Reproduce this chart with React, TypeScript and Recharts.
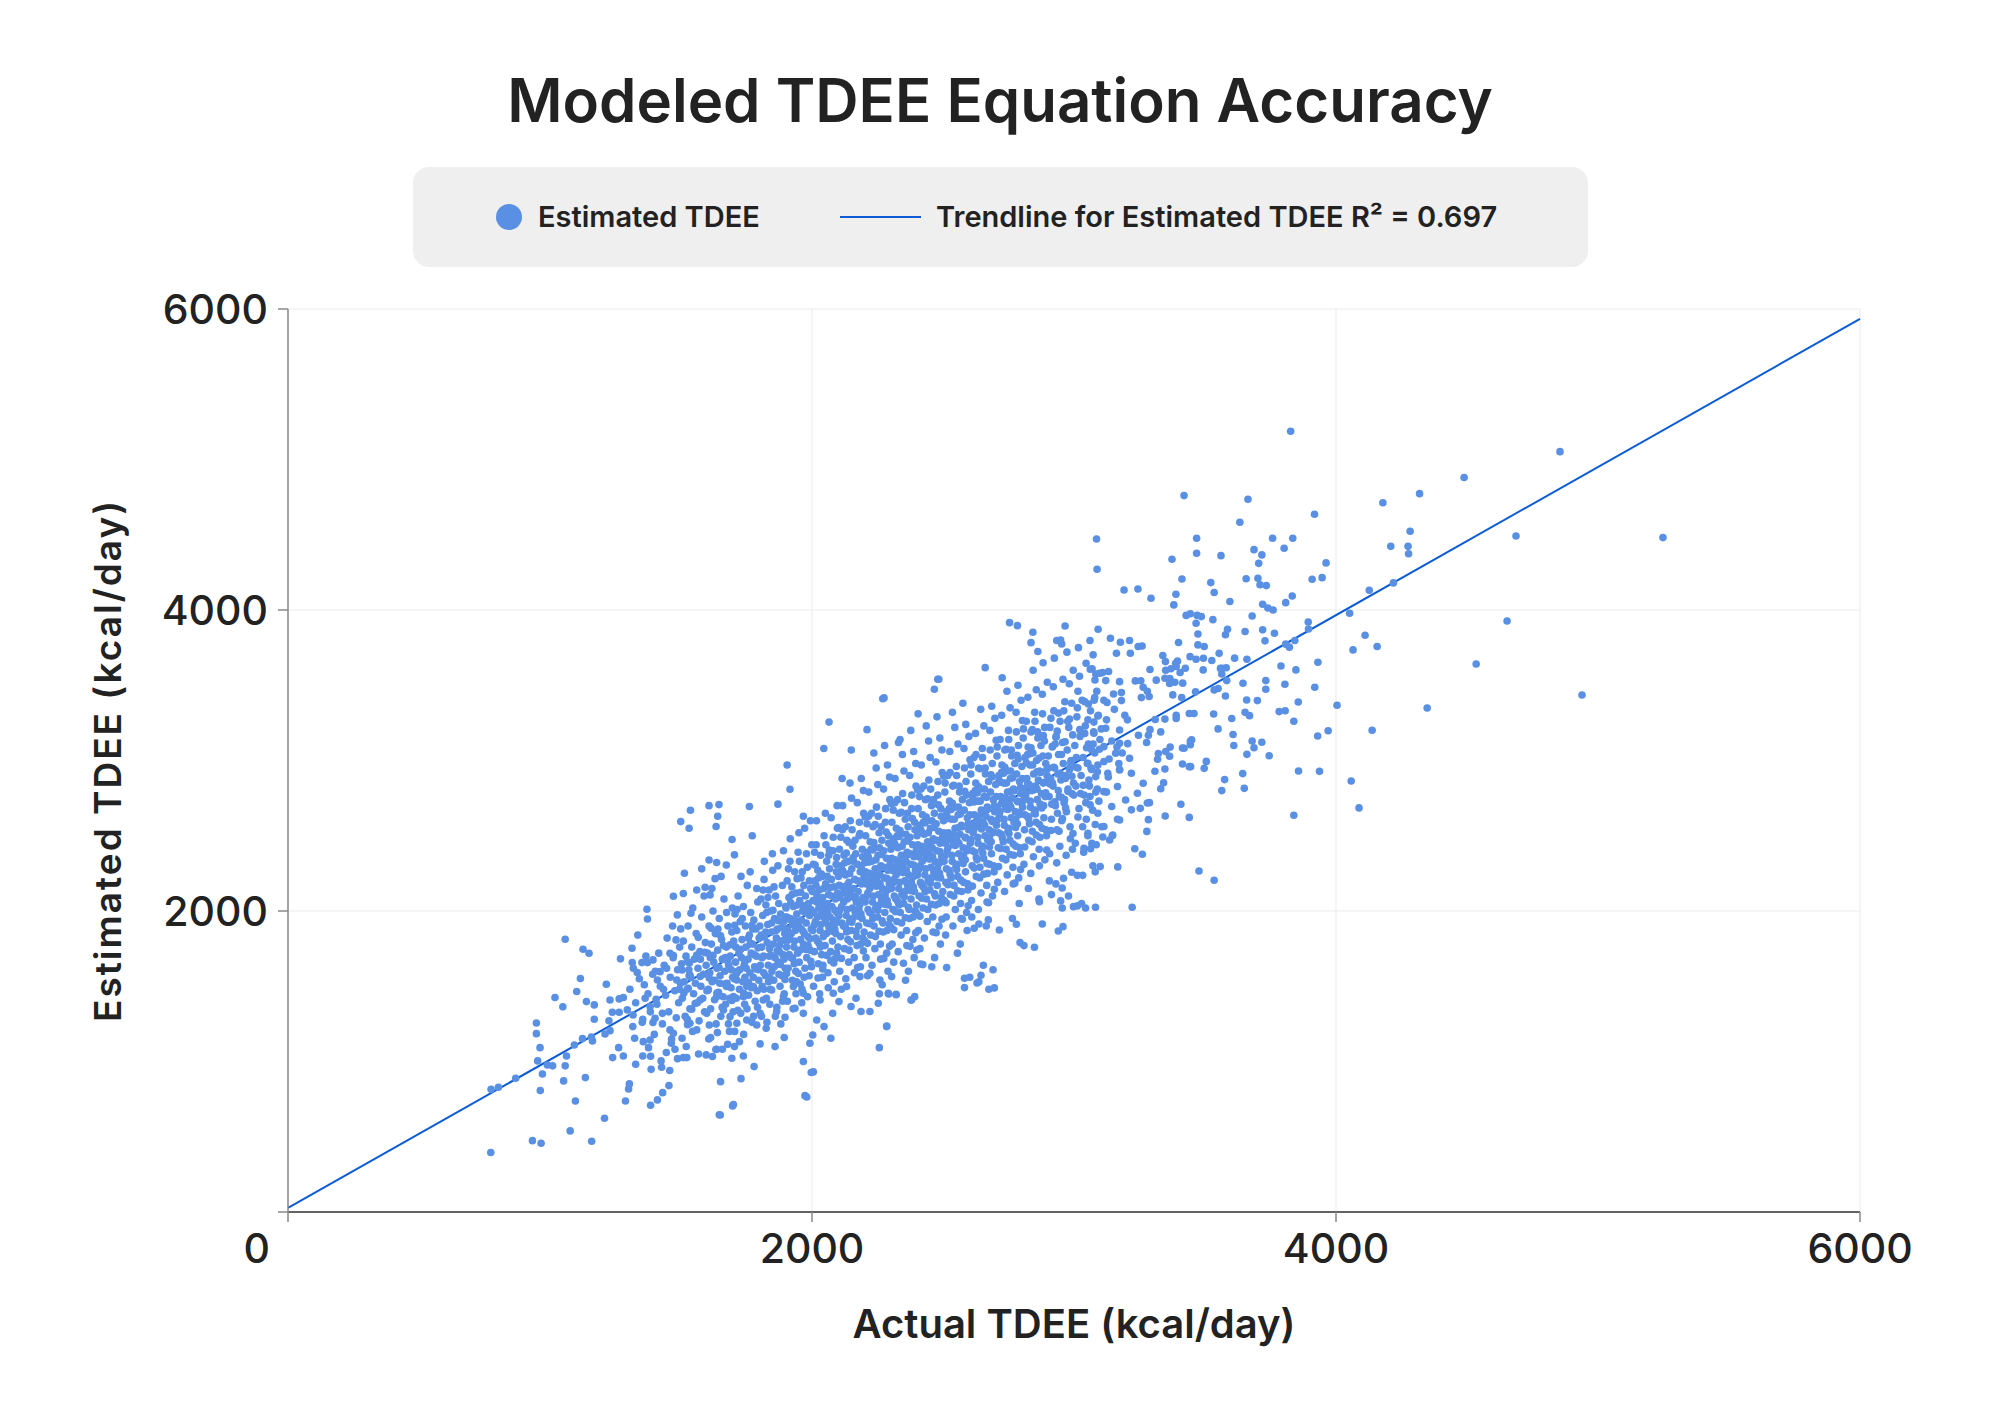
import { CartesianGrid, ReferenceLine, Scatter, ScatterChart, XAxis, YAxis } from "recharts"

// values (x = actual TDEE, y = estimated TDEE, kcal/day)
const lowTail: [number, number][] = [
  [774,395],[933,474],[966,457],[1159,470],[1077,539],[1208,623],[1097,738],[963,807],[775,815],[803,829],
  [869,889],[1052,871],[1135,893],[971,917],[1058,971],[953,1004],[990,977],[1010,971],[1063,1037],[1093,1110],
  [962,1092],[948,1185],[948,1256],[1058,1812],[1049,1363],[1019,1425],[1102,1465],[1116,1551],[1126,1746],[1149,1719],
  [1139,1398],[1169,1376],[1169,1281],[1124,1152],[1158,1163],[1162,1137],[1215,1513],[1229,1409],[1264,1416],[1280,1425],
  [1238,1327],[1264,1327],[1295,1343],[1225,1270],[1210,1183],[1229,1205],[1262,1092],[1239,1026],[1280,1037],[1303,851],
  [1300,818],[1288,738],[1327,982],[1269,1682],[1313,1752],[1314,1657],[1333,1591],[1351,1657],[1372,1657],[1393,1675],
  [1370,2012],[1372,1947],[1317,1309],[1316,1232],[1323,1154],[1356,1132],[1382,1143],[1376,1092],[1354,1037],[1384,1035],
  [1386,948],[1424,1004],[1426,962],[1457,940],[1454,840],[1430,793],[1410,745],[1384,709],[1354,1281],[1363,1420],
  [1382,1365],[1401,1287],[1393,1259],[1429,1320],[1405,1413],[1433,1480],[1410,1542],[1420,1597],[1445,1620],[1458,1719],
  [1471,1704],[1484,1542],[1504,1608],[1494,1480],[1528,1487],[1534,1575],[1524,1664],[1560,1708],[1471,2098],[1509,2116],
  [1486,1974],[1499,1881],[1481,1808],[1513,2251],[1499,2594],[1531,2550],[1536,2669],[1645,2707],[1634,2561],[1761,2694],
  [1916,2809],[1695,2475],[1704,2373],[1607,2339],[1636,2322],[1579,2280],[1673,2306],[1630,2215],[1592,2158],[1560,2140],
  [1611,2107],[1538,1985],[1458,1210],[1471,1188],[1463,1121],[1477,1081],[1487,1019],[1509,1026],[1522,1026],[1504,1154],
  [1534,1254],[1524,1281],[1541,1347],[1560,1210],[1573,1409],[1598,1320],[1608,1243],[1613,1159],[1639,1192],[1636,1081],
  [1658,1081],[1596,1044],[1620,1033],[1651,866],[1650,645],[1697,705],[1678,1114],[1704,1099],[1723,1132],[1694,1022],
  [1729,886],[1738,1037],[1779,966],[1802,1117],[1859,1099],[1894,1159],[1967,1000],[2005,931],[1980,764],[1992,1121],
  [2003,1176],[2072,1154],[2046,1232],[2257,1092],[2285,1232],[2253,1387],[2291,1453],[2321,1447],[2380,1409],[2149,1365],
  [2187,1332],[2221,1332],[2103,1398],[2079,1320],[2018,1276],[1967,1320],[1935,1354],[1897,1294],[1865,1332],[1802,1320],
  [1825,1221],[1789,1243],[1751,1276],[1713,1254],[1687,1298],[1662,1343],[1636,1431],[1604,1475],[1674,1498],[1713,1542],
  [1700,1431],[1738,1431],[1776,1498],[1814,1409],[1846,1475],[1891,1431],[1929,1498],[1967,1453],[2031,1409],[2081,1453],
  [2132,1498],[2183,1564],[2221,1586],[2259,1542],[2304,1564],[2349,1653],[2400,1741],[1973,773],[1646,646],[1700,714],
]

const coreLow: [number, number][] = [
  [1305,1480],[1318,1620],[1327,1390],[1341,1550],[1352,1260],[1366,1700],[1374,1450],[1383,1330],[1392,1580],[1398,1180],[1335,1840],[1360,1510],
  [1402,1600],[1408,1380],[1415,1720],[1421,1500],[1429,1250],[1436,1640],[1441,1440],[1447,1820],[1453,1330],[1459,1560],
  [1464,1150],[1470,1690],[1476,1470],[1482,1290],[1487,1610],[1491,1390],[1495,1760],[1498,1520],[1444,1060],[1468,1900],
  [1502,1650],[1505,1420],[1509,1800],[1512,1530],[1516,1300],[1519,1700],[1523,1480],[1527,1900],[1530,1610],[1534,1350],
  [1537,1560],[1541,1760],[1544,1200],[1548,1450],[1551,1680],[1555,1520],[1558,1850],[1562,1390],[1565,1620],[1569,1270],
  [1572,1730],[1576,1500],[1579,1960],[1583,1420],[1586,1580],[1590,1330],[1593,1790],[1596,1640],[1599,1470],[1520,1100],
  [1545,2020],[1567,1050],[1588,2100],[1531,1570],[1574,1680],
  [1601,1720],[1604,1480],[1607,1900],[1610,1590],[1613,1350],[1616,1780],[1619,1530],[1622,2000],[1625,1660],[1628,1410],
  [1631,1850],[1634,1250],[1637,1620],[1640,1740],[1643,1460],[1646,1950],[1649,1570],[1652,1300],[1655,1810],[1658,1680],
  [1661,1430],[1664,2080],[1667,1600],[1670,1380],[1673,1760],[1676,1520],[1679,1900],[1682,1640],[1685,1200],[1688,1700],
  [1691,1490],[1694,1860],[1697,1560],[1699,1330],[1606,1150],[1618,2150],[1633,1080],[1648,1520],[1662,1770],[1674,1990],
  [1686,1420],[1696,2020],[1612,1690],[1627,1540],[1641,1880],[1657,1360],[1669,1690],[1681,1250],[1692,1610],[1653,2230],
  [1701,1800],[1703,1550],[1706,1980],[1708,1660],[1711,1420],[1713,1870],[1716,1600],[1718,2100],[1721,1720],[1723,1480],
  [1726,1930],[1728,1320],[1731,1690],[1733,1810],[1736,1530],[1738,2030],[1741,1640],[1743,1380],[1746,1900],[1748,1760],
  [1751,1500],[1753,2170],[1756,1680],[1758,1440],[1761,1840],[1763,1590],[1766,1990],[1768,1720],[1771,1260],[1773,1780],
  [1776,1560],[1778,1940],[1781,1630],[1783,1400],[1786,1880],[1788,1700],[1791,1470],[1793,2060],[1796,1610],[1798,1820],
  [1705,1200],[1717,1340],[1729,2230],[1739,1180],[1752,1350],[1764,2260],[1777,1300],[1789,2150],[1709,1760],[1724,1610],
  [1734,1950],[1744,1560],[1757,1820],[1769,1490],[1779,1710],[1792,1360],[1714,2010],[1749,1620],[1774,1880],[1797,1540],
  [1801,1900],[1803,1640],[1805,2080],[1808,1760],[1810,1500],[1812,1970],[1815,1700],[1817,2210],[1819,1830],[1822,1570],
  [1824,2040],[1826,1420],[1829,1790],[1831,1910],[1833,1640],[1836,2140],[1838,1750],[1840,1480],[1843,2000],[1845,1860],
  [1847,1600],[1850,2270],[1852,1780],[1854,1540],[1857,1950],[1859,1690],[1861,2100],[1864,1820],[1866,1360],[1868,1880],
  [1871,1660],[1873,2050],[1875,1730],[1878,1500],[1880,1980],[1882,1800],[1885,1570],[1887,2170],[1889,1710],[1892,1930],
  [1894,1450],[1896,1850],[1898,1620],[1899,2030],[1807,1300],[1818,2330],[1828,1260],[1839,1380],[1849,2380],[1860,1300],
  [1870,2300],[1881,1250],[1891,2400],[1806,1840],[1816,1590],[1827,1990],[1837,1700],[1846,1920],[1856,1630],[1863,1870],
  [1874,1580],[1884,1890],[1893,1680],[1813,2140],[1834,1530],[1855,2160],[1876,1770],[1888,1400],[1897,1960],
  [1901,2020],[1903,1760],[1905,2200],[1907,1880],[1909,1620],[1912,2090],[1914,1820],[1916,2330],[1918,1950],[1920,1690],
  [1923,2160],[1925,1540],[1927,1910],[1929,2030],[1931,1760],[1934,2260],[1936,1870],[1938,1600],[1940,2120],[1942,1980],
  [1945,1720],[1947,2390],[1949,1900],[1951,1660],[1953,2070],[1956,1810],[1958,2220],[1960,1940],[1962,1480],[1964,2000],
  [1967,1780],[1969,2170],[1971,1850],[1973,1620],[1975,2100],[1978,1920],[1980,1690],[1982,2290],[1984,1830],[1986,2050],
  [1989,1570],[1991,1970],[1993,1740],[1995,2150],[1997,1880],[1999,2440],[1906,1400],[1917,2480],[1928,1350],[1939,1450],
  [1950,2520],[1961,1390],[1972,2550],[1983,1430],[1994,2600],[1904,1960],[1913,1710],[1924,2110],[1933,1800],[1944,2040],
  [1954,1740],[1963,2260],[1974,1990],[1985,1770],[1996,2010],[1910,2280],[1932,1650],[1952,2330],[1970,1560],[1990,2200],
  [1921,1850],[1941,1530],[1959,1880],[1979,2380],[1998,1630],
]

const coreMid: [number, number][] = [
  [2001,2130],[2003,1870],[2005,2310],[2007,1990],[2009,1730],[2011,2200],[2013,1930],[2016,2440],[2018,2060],[2020,1800],
  [2022,2270],[2024,1650],[2026,2020],[2028,2140],[2031,1870],[2033,2370],[2035,1980],[2037,1710],[2039,2230],[2041,2090],
  [2043,1830],[2046,2500],[2048,2010],[2050,1770],[2052,2180],[2054,1920],[2056,2330],[2059,2050],[2061,1590],[2063,2110],
  [2065,1890],[2067,2280],[2069,1960],[2071,1730],[2074,2210],[2076,2030],[2078,1800],[2080,2400],[2082,1940],[2084,2160],
  [2086,1680],[2089,2080],[2091,1850],[2093,2260],[2095,1990],[2097,2550],[2099,1760],[2006,1500],[2017,2600],[2029,1450],
  [2040,1560],[2051,2650],[2062,1490],[2073,2620],[2085,1530],[2096,2700],[2004,2070],[2014,1820],[2025,2220],[2034,1910],
  [2044,2150],[2055,1850],[2064,2370],[2075,2100],[2087,1880],[2098,2120],[2010,2390],[2032,1760],[2053,2440],[2072,1670],
  [2092,2310],[2021,1960],[2042,1640],[2060,1990],[2081,2490],[2094,1720],[2015,2170],[2038,2050],[2058,2230],[2079,1910],
  [2101,2230],[2103,1970],[2105,2410],[2107,2090],[2109,1830],[2111,2300],[2113,2030],[2116,2540],[2118,2160],[2120,1900],
  [2122,2370],[2124,1750],[2126,2120],[2128,2240],[2131,1970],[2133,2470],[2135,2080],[2137,1810],[2139,2330],[2141,2190],
  [2143,1930],[2146,2600],[2148,2110],[2150,1870],[2152,2280],[2154,2020],[2156,2430],[2159,2150],[2161,1690],[2163,2210],
  [2165,1990],[2167,2380],[2169,2060],[2171,1830],[2174,2310],[2176,2130],[2178,1900],[2180,2500],[2182,2040],[2184,2260],
  [2186,1780],[2189,2180],[2191,1950],[2193,2360],[2195,2090],[2197,2650],[2199,1860],[2106,1600],[2117,2700],[2129,1550],
  [2140,1660],[2151,2750],[2162,1590],[2173,2720],[2185,1630],[2196,2800],[2104,2170],[2114,1920],[2125,2320],[2134,2010],
  [2144,2250],[2155,1950],[2164,2470],[2175,2200],[2187,1980],[2198,2220],[2110,2490],[2132,1860],[2153,2540],[2172,1770],
  [2192,2410],[2121,2060],[2142,1740],[2160,2090],[2181,2590],[2194,1820],[2115,2270],[2138,2150],[2158,2330],[2179,2010],
  [2112,1480],[2145,2850],[2168,1420],[2188,2880],[2127,2560],
  [2201,2320],[2203,2060],[2205,2500],[2207,2180],[2209,1920],[2211,2390],[2213,2120],[2216,2630],[2218,2250],[2220,1990],
  [2222,2460],[2224,1840],[2226,2210],[2228,2330],[2231,2060],[2233,2560],[2235,2170],[2237,1900],[2239,2420],[2241,2280],
  [2243,2020],[2246,2690],[2248,2200],[2250,1960],[2252,2370],[2254,2110],[2256,2520],[2259,2240],[2261,1780],[2263,2300],
  [2265,2080],[2267,2470],[2269,2150],[2271,1920],[2274,2400],[2276,2220],[2278,1990],[2280,2590],[2282,2130],[2284,2350],
  [2286,1870],[2289,2270],[2291,2040],[2293,2450],[2295,2180],[2297,2740],[2299,1950],[2206,1690],[2217,2790],[2229,1640],
  [2240,1750],[2251,2840],[2262,1680],[2273,2810],[2285,1720],[2296,2890],[2204,2260],[2214,2010],[2225,2410],[2234,2100],
  [2244,2340],[2255,2040],[2264,2560],[2275,2290],[2287,2070],[2298,2310],[2210,2580],[2232,1950],[2253,2630],[2272,1860],
  [2292,2500],[2221,2150],[2242,1830],[2260,2180],[2281,2680],[2294,1910],[2215,2360],[2238,2240],[2258,2420],[2279,2100],
  [2212,1570],[2245,2950],[2268,1510],[2288,2970],[2227,2650],[2202,1800],[2236,3050],[2257,1450],[2277,3100],[2290,1600],
  [2301,2410],[2303,2150],[2305,2590],[2307,2270],[2309,2010],[2311,2480],[2313,2210],[2316,2720],[2318,2340],[2320,2080],
  [2322,2550],[2324,1930],[2326,2300],[2328,2420],[2331,2150],[2333,2650],[2335,2260],[2337,1990],[2339,2510],[2341,2370],
  [2343,2110],[2346,2780],[2348,2290],[2350,2050],[2352,2460],[2354,2200],[2356,2610],[2359,2330],[2361,1870],[2363,2390],
  [2365,2170],[2367,2560],[2369,2240],[2371,2010],[2374,2490],[2376,2310],[2378,2080],[2380,2680],[2382,2220],[2384,2440],
  [2386,1960],[2389,2360],[2391,2130],[2393,2540],[2395,2270],[2397,2830],[2399,2040],[2306,1780],[2317,2880],[2329,1730],
  [2340,1840],[2351,2930],[2362,1770],[2373,2900],[2385,1810],[2396,2980],[2304,2350],[2314,2100],[2325,2500],[2334,2190],
  [2344,2430],[2355,2130],[2364,2650],[2375,2380],[2387,2160],[2398,2400],[2310,2670],[2332,2040],[2353,2720],[2372,1950],
  [2392,2590],[2321,2240],[2342,1920],[2360,2270],[2381,2770],[2394,2000],[2315,2450],[2338,2330],[2358,2510],[2379,2190],
  [2312,1660],[2345,3040],[2368,1600],[2388,3060],[2327,2740],[2302,1890],[2336,3140],[2357,1540],[2377,3200],[2390,1690],
  [2401,2500],[2403,2240],[2405,2680],[2407,2360],[2409,2100],[2411,2570],[2413,2300],[2416,2810],[2418,2430],[2420,2170],
  [2422,2640],[2424,2020],[2426,2390],[2428,2510],[2431,2240],[2433,2740],[2435,2350],[2437,2080],[2439,2600],[2441,2460],
  [2443,2200],[2446,2870],[2448,2380],[2450,2140],[2452,2550],[2454,2290],[2456,2700],[2459,2420],[2461,1960],[2463,2480],
  [2465,2260],[2467,2650],[2469,2330],[2471,2100],[2474,2580],[2476,2400],[2478,2170],[2480,2770],[2482,2310],[2484,2530],
  [2486,2050],[2489,2450],[2491,2220],[2493,2630],[2495,2360],[2497,2920],[2499,2130],[2406,1870],[2417,2970],[2429,1820],
  [2440,1930],[2451,3020],[2462,1860],[2473,2990],[2485,1900],[2496,3070],[2404,2440],[2414,2190],[2425,2590],[2434,2280],
  [2444,2520],[2455,2220],[2464,2740],[2475,2470],[2487,2250],[2498,2490],[2410,2760],[2432,2130],[2453,2810],[2472,2040],
  [2492,2680],[2421,2330],[2442,2010],[2460,2360],[2481,2860],[2494,2090],[2415,2540],[2438,2420],[2458,2600],[2479,2280],
  [2412,1750],[2445,3130],[2468,1690],[2488,3150],[2427,2830],[2402,1980],[2436,3230],[2457,1630],[2477,3290],[2490,1780],
  [2502,2600],[2504,2330],[2507,2790],[2509,2450],[2511,2190],[2514,2660],[2516,2400],[2518,2900],[2521,2520],[2523,2270],
  [2525,2730],[2528,2110],[2530,2480],[2532,2610],[2535,2330],[2537,2830],[2539,2440],[2542,2170],[2544,2690],[2546,2550],
  [2549,2290],[2551,2960],[2553,2470],[2556,2230],[2558,2640],[2560,2380],[2563,2790],[2565,2510],[2567,2050],[2570,2570],
  [2572,2350],[2574,2740],[2577,2420],[2579,2190],[2581,2670],[2584,2490],[2586,2260],[2588,2860],[2591,2400],[2593,2620],
  [2595,2140],[2598,2540],[2512,1960],[2526,3060],[2538,1900],[2547,2010],[2557,3110],[2569,1950],[2580,3080],[2590,1990],
  [2599,3160],[2503,2520],[2513,2280],[2524,2680],[2534,2370],[2543,2610],[2554,2310],[2562,2830],[2573,2560],[2585,2340],
  [2596,2580],[2508,2850],[2531,2220],[2552,2900],[2571,2130],[2589,2770],[2519,2420],[2541,2100],[2561,2450],[2582,2950],
  [2594,2180],[2515,2630],[2540,2510],[2559,2690],[2578,2370],[2510,1840],[2545,3220],[2566,1780],[2587,3240],[2527,2920],
  [2505,2070],[2536,3320],[2555,1720],[2576,3380],[2592,1870],
]

const coreHigh: [number, number][] = [
  [2601,2720],[2604,2450],[2606,2910],[2608,2570],[2611,2300],[2613,2780],[2615,2520],[2618,3020],[2620,2640],[2622,2390],
  [2625,2850],[2627,2230],[2629,2600],[2632,2730],[2634,2450],[2636,2950],[2639,2560],[2641,2290],[2643,2810],[2646,2670],
  [2648,2410],[2650,3080],[2653,2590],[2655,2350],[2657,2760],[2660,2500],[2662,2910],[2664,2630],[2667,2170],[2669,2690],
  [2671,2470],[2674,2860],[2676,2540],[2678,2310],[2681,2790],[2683,2610],[2685,2380],[2688,2980],[2690,2520],[2692,2740],
  [2695,2260],[2697,2660],[2609,2070],[2624,3180],[2635,2010],[2645,2120],[2656,3230],[2668,2060],[2679,3200],[2689,2100],
  [2698,3280],[2603,2640],[2612,2400],[2623,2800],[2633,2490],[2642,2730],[2652,2430],[2661,2950],[2672,2680],[2684,2460],
  [2696,2700],[2607,2970],[2630,2340],[2651,3020],[2670,2250],[2687,2890],[2617,2540],[2640,2220],[2659,2570],[2680,3070],
  [2693,2300],[2614,2750],[2638,2630],[2658,2810],[2677,2490],[2610,1960],[2644,3340],[2665,1900],[2686,3360],[2626,3040],
  [2602,1560],[2637,1530],[2654,1640],[2675,1480],[2691,1610],
  [2701,2840],[2704,2570],[2706,3030],[2708,2690],[2711,2420],[2713,2900],[2715,2640],[2718,3140],[2720,2760],[2722,2510],
  [2725,2970],[2727,2350],[2729,2720],[2732,2850],[2734,2570],[2736,3070],[2739,2680],[2741,2410],[2743,2930],[2746,2790],
  [2748,2530],[2750,3200],[2753,2710],[2755,2470],[2757,2880],[2760,2620],[2762,3030],[2764,2750],[2767,2290],[2769,2810],
  [2771,2590],[2774,2980],[2776,2660],[2778,2430],[2781,2910],[2783,2730],[2785,2500],[2788,3100],[2790,2640],[2792,2860],
  [2795,2380],[2797,2780],[2709,2190],[2724,3300],[2735,2130],[2745,2240],[2756,3350],[2768,2180],[2779,3320],[2789,2220],
  [2798,3400],[2703,2760],[2712,2520],[2723,2920],[2733,2610],[2742,2850],[2752,2550],[2761,3070],[2772,2800],[2784,2580],
  [2796,2820],[2707,3090],[2730,2460],[2751,3140],[2770,2370],[2787,3010],[2717,2660],[2740,2340],[2759,2690],[2780,3190],
  [2793,2420],[2714,2870],[2738,2750],[2758,2930],[2777,2610],[2744,3460],[2786,3500],[2726,3550],[2765,1950],[2791,2050],
  [2801,2960],[2804,2690],[2806,3150],[2808,2810],[2811,2540],[2813,3020],[2815,2760],[2818,3260],[2820,2880],[2822,2630],
  [2825,3090],[2827,2470],[2829,2840],[2832,2970],[2834,2690],[2836,3190],[2839,2800],[2841,2530],[2843,3050],[2846,2910],
  [2848,2650],[2850,3320],[2853,2830],[2855,2590],[2857,3000],[2860,2740],[2862,3150],[2864,2870],[2867,2410],[2869,2930],
  [2871,2710],[2874,3100],[2876,2780],[2878,2550],[2881,3030],[2883,2850],[2885,2620],[2888,3220],[2890,2760],[2892,2980],
  [2895,2500],[2897,2900],[2809,2310],[2824,3420],[2835,2250],[2845,2360],[2856,3470],[2868,2300],[2879,3440],[2889,2340],
  [2898,3520],[2803,2880],[2812,2640],[2823,3040],[2833,2730],[2842,2970],[2852,2670],[2861,3190],[2872,2920],[2884,2700],
  [2896,2940],[2807,3210],[2830,2580],[2851,3260],[2870,2490],[2887,3130],[2817,2780],[2840,2460],[2859,2810],[2880,3310],
  [2893,2540],[2844,3600],[2882,3650],[2826,2150],[2866,2080],
  [2902,3030],[2905,2760],[2908,3220],[2911,2880],[2914,2610],[2917,3090],[2920,2830],[2923,3330],[2926,2950],[2929,2700],
  [2932,3160],[2935,2540],[2938,2910],[2941,3040],[2944,2760],[2947,3260],[2950,2870],[2953,2600],[2956,3120],[2959,2980],
  [2962,2720],[2965,3390],[2968,2900],[2971,2660],[2974,3070],[2977,2810],[2980,3220],[2983,2940],[2986,2480],[2989,3000],
  [2992,2780],[2995,3170],[2998,2850],[2907,2380],[2921,3490],[2934,2320],[2946,2430],[2958,3540],[2970,2370],[2982,3510],
  [2994,2410],[2903,2950],[2915,2710],[2928,3110],[2940,2800],[2952,3040],[2964,2740],[2976,3260],[2988,2990],[2999,2770],
  [2912,3280],[2937,2650],[2961,3330],[2985,2560],[2918,2850],[2943,2530],[2967,2880],[2991,3380],[2925,3680],[2973,3720],
  [2931,2180],[2979,2100],[2955,2020],[2997,3600],[2949,3800],
  [3003,3100],[3007,2830],[3011,3290],[3015,2950],[3019,2680],[3023,3160],[3027,2900],[3031,3400],[3035,3020],[3039,2770],
  [3043,3230],[3047,2610],[3051,2980],[3055,3110],[3059,2830],[3063,3330],[3067,2940],[3071,2670],[3075,3190],[3079,3050],
  [3083,2790],[3087,3460],[3091,2970],[3095,2730],[3099,3140],[3005,2450],[3021,3560],[3037,2390],[3053,2500],[3069,3610],
  [3085,2440],[3097,3580],[3009,3020],[3025,2780],[3041,3180],[3057,2870],[3073,3110],[3089,2810],[3013,3350],[3045,2720],
  [3077,3400],[3033,2560],[3065,2950],[3093,3300],[3017,3750],[3081,2260],[3029,2050],[3015,3460],[3044,2020],[3072,2300],
  [3104,3210],[3114,3400],[3124,2790],[3134,3010],[3144,3130],[3154,3340],[3164,3090],[3174,2940],[3184,3050],[3194,3300],
  [3106,2560],[3146,2500],[3166,2610],[3131,2890],[3171,2980],
]

// second pass over the saturated centre of the cloud
const coreFill: [number, number][] = [
  [1511,1455],[1532,1655],[1554,1385],[1573,1565],[1591,1725],[1525,1245],[1566,1825],
  [1608,1555],[1622,1705],[1637,1455],[1651,1835],[1666,1515],[1679,1665],[1694,1405],[1615,1885],[1645,1625],[1687,1775],
  [1712,1585],[1727,1745],[1744,1665],[1758,1525],[1771,1905],[1786,1615],[1794,1755],[1705,1905],[1739,1455],[1765,1785],
  [1809,1690],[1823,1860],[1838,1560],[1851,2005],[1867,1735],[1879,1645],[1893,1805],[1816,1480],[1844,1705],[1872,1935],[1897,1545],[1832,2090],
  [1908,1805],[1919,2055],[1926,1685],[1937,1935],[1948,1585],[1957,2125],[1966,1865],[1977,1745],[1988,2005],[1996,1665],
  [1914,1945],[1943,2215],[1968,2035],[1992,1815],[1903,1585],[1955,1515],
  [2008,1905],[2019,2105],[2027,1785],[2036,2245],[2047,1955],[2057,1705],[2068,2155],[2077,1865],[2088,2005],[2094,2355],
  [2012,2305],[2041,1615],[2066,2405],[2083,1655],[2023,1555],[2052,2025],[2098,1925],[2033,2075],
  [2106,2005],[2118,2265],[2127,1895],[2136,2175],[2147,1795],[2157,2355],[2166,2095],[2177,1965],[2188,2285],[2196,1735],
  [2112,1685],[2141,2455],[2168,1865],[2183,2515],[2123,2125],[2152,1925],[2192,2075],[2131,2385],[2174,1625],[2101,2555],
  [2207,2095],[2217,2325],[2226,1985],[2236,2455],[2246,2165],[2256,1865],[2266,2375],[2277,2045],[2287,2215],[2296,1765],
  [2212,1785],[2241,2575],[2268,1935],[2283,2525],[2223,2205],[2252,2005],[2292,2145],[2231,2405],[2274,1685],[2203,2625],[2259,2285],[2219,1915],
  [2307,2185],[2318,2435],[2327,2065],[2336,2535],[2347,2255],[2356,1955],[2366,2465],[2377,2135],[2388,2305],[2396,1855],
  [2312,1875],[2341,2655],[2368,2025],[2383,2615],[2323,2295],[2352,2095],[2392,2235],[2331,2495],[2374,1765],[2303,2715],[2359,2375],[2319,1995],
  [2407,2275],[2418,2525],[2427,2155],[2436,2625],[2447,2345],[2456,2045],[2466,2555],[2477,2225],[2488,2395],[2496,1945],
  [2412,1965],[2441,2745],[2468,2115],[2483,2705],[2423,2385],[2452,2185],[2492,2325],[2431,2585],[2474,1855],[2403,2805],[2459,2465],[2419,2085],
  [2507,2365],[2518,2615],[2527,2245],[2536,2715],[2547,2435],[2556,2135],[2566,2645],[2577,2315],[2588,2485],[2596,2035],
  [2512,2055],[2541,2835],[2568,2205],[2583,2795],[2523,2475],[2552,2275],[2592,2415],[2531,2675],[2574,1945],[2503,2895],[2559,2555],[2519,2175],
  [2607,2475],[2618,2725],[2627,2355],[2636,2825],[2647,2545],[2656,2245],[2666,2755],[2677,2425],[2688,2595],[2696,2145],
  [2612,2165],[2641,2945],[2668,2315],[2683,2905],[2623,2585],[2652,2385],[2692,2525],[2631,2785],[2674,2055],[2603,3005],[2659,2665],[2619,2285],
  [2707,2605],[2718,2855],[2727,2485],[2736,2955],[2747,2675],[2756,2375],[2766,2885],[2777,2555],[2788,2725],[2796,2275],
  [2712,2295],[2741,3075],[2768,2445],[2783,3035],[2723,2715],[2752,2515],[2792,2655],[2731,2915],[2774,2185],[2703,3135],[2759,2795],[2719,2415],
  [2807,2735],[2818,2985],[2827,2615],[2836,3085],[2847,2805],[2856,2505],[2866,3015],[2877,2685],[2888,2855],[2896,2405],
  [2812,2425],[2841,3205],[2868,2575],[2883,3165],[2823,2845],[2852,2645],[2892,2785],[2831,3045],[2803,3265],[2859,2925],
  [2907,2845],[2918,3095],[2927,2725],[2936,3195],[2947,2915],[2956,2615],[2966,3125],[2977,2795],[2988,2965],[2996,2515],
  [2912,2535],[2941,3315],[2968,2685],[2983,3275],[2923,2955],[2952,2755],[2992,2895],[2931,3155],
  [3008,2955],[3022,3205],[3035,2835],[3048,3085],[3062,2705],[3076,3255],[3089,2925],[3097,3075],[3015,2625],[3055,3375],[3081,2575],
]

const midFringe: [number, number][] = [
  [2661,3617],[2484,3540],[2467,3473],[2275,3416],[2754,3916],[2784,3896],[2843,3852],[2966,3894],[2836,3783],[2862,3724],
  [2934,3797],[2953,3774],[3477,2266],[3535,2204],[3222,2025],[3082,2025],[2998,2029],[3013,2034],[3033,2237],[3013,2237],
  [2991,2257],[3100,2295],[3167,2293],[3261,2377],[2960,2217],[2955,2153],[2949,2067],[2940,1867],[2958,1896],[2849,1759],
  [2879,1914],[2780,1912],[2794,1790],[2809,1770],[2868,2062],[2906,2200],[2914,2109],[2715,1874],[2673,1941],[2619,1885],
  [2637,1914],[2582,1553],[2582,1491],[2630,1522],[2645,1573],[2696,1489],[2514,1624],[2415,1648],[2423,1644],[2378,1409],
  [2392,1431],[2285,1236],[2293,1449],[2321,1444],[1905,2970],[2065,3255],[2045,3080],[2270,3410],[2150,3070],[2210,3205],
  [2480,3540],[2405,3310],[2330,3120],[2115,2880],[1967,2630],[1870,2710],[1772,2500],[1607,2700],[1640,2630],[1997,927],
]

const highTail: [number, number][] = [
  [3827,5188],[4855,5052],[4489,4880],[4319,4773],[4179,4713],[3420,4760],[3664,4736],[3918,4636],[3633,4583],[3086,4472],
  [3088,4271],[3468,4477],[3468,4377],[3561,4361],[3758,4477],[3835,4477],[3802,4410],[3687,4401],[3717,4366],[3705,4310],
  [3374,4337],[3962,4313],[5248,4481],[4687,4492],[4283,4523],[4209,4423],[4275,4423],[4277,4374],[3947,4215],[3909,4204],
  [3657,4208],[3702,4211],[3710,4168],[3734,4162],[3412,4206],[3522,4182],[3535,4116],[3191,4133],[3244,4140],[3294,4078],
  [3389,4105],[3381,4034],[3595,4056],[3720,4038],[3808,4049],[3833,4093],[3740,4013],[3760,4000],[4127,4131],[4219,4180],
  [4052,3978],[3894,3920],[3895,3874],[4111,3832],[4065,3735],[4157,3757],[4653,3927],[4535,3641],[4939,3435],[4348,3349],
  [4138,3201],[4058,2864],[4088,2685],[4004,3367],[3970,3198],[3930,3163],[3937,2928],[3857,2930],[3839,2636],[3931,3653],
  [3919,3487],[3847,3602],[3790,3628],[3856,3389],[3839,3261],[3783,3325],[3806,3331],[3805,3507],[3732,3531],[3732,3473],
  [3745,3032],[3687,3085],[3660,3041],[3717,3121],[3680,3130],[3645,3513],[3659,3402],[3700,3398],[3653,3320],[3670,3298],
  [3602,3279],[3607,3173],[3610,3100],[3644,2913],[3650,2815],[3575,2873],[3564,2800],[3550,3210],[3533,3309],[3578,3429],
  [3550,3478],[3583,3531],[3564,3575],[3559,3612],[3581,3616],[3660,3673],[3613,3680],[3554,3712],[3578,3836],[3586,3872],
  [3653,3857],[3720,3868],[3765,3846],[3729,3795],[3808,3773],[3822,3753],[3843,3797],[3680,3960],[3486,3956],[3470,3964],
  [3444,3975],[3428,3964],[3466,3912],[3530,3936],[3473,3841],[3473,3768],[3497,3757],[3399,3784],[3350,3600],[3370,3610],
  [3390,3625],[3405,3585],[3395,3660],[3385,3520],[3339,3698],[3290,3605],[3255,3530],[3280,3460],[3314,3534],[3347,3547],
  [3366,3545],[3365,3512],[3415,3514],[3377,3436],[3411,3418],[3464,3456],[3440,3312],[3458,3312],[3390,3301],[3390,3279],
  [3347,3275],[3310,3272],[3331,3190],[3290,3205],[3284,3168],[3277,3120],[3246,3168],[3205,3112],[3444,3127],[3444,3105],
  [3414,3083],[3350,3059],[3365,3028],[3367,3089],[3322,3046],[3319,3008],[3309,2929],[3347,2944],[3331,2812],[3342,2852],
  [3414,2977],[3440,2959],[3497,2948],[3505,2994],[3408,2709],[3440,2622],[3348,2631],[3284,2607],[3278,2529],[3232,2414],
  [3253,2682],[3280,2718],[3288,2720],[3148,2505],[3110,2492],[3063,2414],[3092,3872],[3061,3797],[3139,3812],[3177,3786],
  [3212,3797],[3162,3713],[3215,3713],[3245,3757],[3260,3761],[3073,3702],[3046,3646],[3062,3606],[3083,3575],[3109,3584],
  [3132,3591],[3080,3535],[3121,3531],[3174,3524],[3234,3529],[3264,3487],[3151,3442],[3181,3451],[3181,3398],[3126,3385],
  [3079,3418],[3041,3391],[3257,3418],[3287,3425],[3124,3270],[3091,3296],[3053,3270],[3204,3270],[3174,3203],[3121,3214],
  [3076,3181],[3174,3115],[3114,3092],[3068,3070],[3159,3048],[3212,3015],[3114,2993],[3053,2982],[3174,2937],[3129,2915],
  [3083,2893],[3219,2915],[3264,2849],[3166,2827],[3114,2793],[3061,2760],[3197,2738],[3242,2782],[3144,2694],[3091,2650],
  [3174,2605],[3114,2561],[3053,2517],[3219,2672],[3068,2450],[3136,2472],[3038,2417],[3443,3690],[3466,3673],[3494,3679],
  [3526,3664],[3349,3657],[3388,3646],[3425,3613],[3493,3602],[3566,3613],[3420,3081],[3445,2959],[3449,3137],[3535,3469],
]

const trendX = [0, 6000]
const trendY = [27, 5935]
const xTicks = [0, 2000, 4000, 6000]
const yTicks = [0, 2000, 4000, 6000]

const POINT = "#5a90e3"
const TREND = "#0b5bd6"
const INK = "#222222"
const FONT = "Inter, 'Noto Sans', sans-serif"

const points = [...lowTail, ...coreLow, ...coreMid, ...coreHigh, ...coreFill, ...midFringe, ...highTail].map(
  ([x, y]) => ({ x, y })
)

const Dot = (props: any) => <circle cx={props.cx} cy={props.cy} r={3.8} fill={POINT} />

const XTick = (props: any) => {
  const { x, y, payload } = props
  const isZero = payload.value === 0
  return (
    <text
      x={isZero ? x - 18 : x}
      y={y}
      dy={39}
      textAnchor={isZero ? "end" : "middle"}
      fill={INK}
      fontSize={41}
      fontWeight={500}
      fontFamily={FONT}
    >
      {payload.value}
    </text>
  )
}

const YTick = (props: any) => {
  const { x, y, payload } = props
  if (payload.value === 0) return <g />
  return (
    <text x={x - 8} y={y} dy={15} textAnchor="end" fill={INK} fontSize={41} fontWeight={500} fontFamily={FONT}>
      {payload.value}
    </text>
  )
}

export default function App() {
  return (
    <div style={{ position: "relative", width: 2000, height: 1410, background: "#fff", fontFamily: FONT }}>
      <style>{"body{margin:0}"}</style>
      <div
        style={{
          position: "absolute",
          top: 62,
          left: 0,
          width: 2000,
          textAlign: "center",
          fontSize: 60,
          fontWeight: 600,
          color: INK,
          lineHeight: "76px",
        }}
      >
        Modeled TDEE Equation Accuracy
      </div>
      <div
        style={{
          position: "absolute",
          left: 413,
          top: 167,
          width: 1175,
          height: 100,
          borderRadius: 16,
          background: "#efefef",
        }}
      >
        <span style={{ position: "absolute", left: 83, top: 37, width: 26, height: 26, borderRadius: 13, background: POINT }} />
        <span style={{ position: "absolute", left: 125, top: 30, fontSize: 29, fontWeight: 600, color: INK, lineHeight: "40px" }}>
          Estimated TDEE
        </span>
        <span style={{ position: "absolute", left: 427, top: 49, width: 81, height: 2, background: TREND }} />
        <span style={{ position: "absolute", left: 523, top: 30, fontSize: 29, fontWeight: 600, color: INK, lineHeight: "40px" }}>
          Trendline for Estimated TDEE R² = 0.697
        </span>
      </div>
      <div style={{ position: "absolute", left: 0, top: 0 }}>
        <ScatterChart width={2000} height={1410} margin={{ top: 309, right: 140, bottom: 0, left: 0 }}>
          <CartesianGrid stroke="#ebebeb" strokeWidth={1} />
          <XAxis
            type="number"
            dataKey="x"
            domain={[0, 6000]}
            ticks={xTicks}
            height={198}
            tickSize={10}
            axisLine={{ stroke: "#333", strokeWidth: 1.5 }}
            tickLine={{ stroke: "#888", strokeWidth: 1.5 }}
            tick={<XTick />}
            label={{
              value: "Actual TDEE (kcal/day)",
              position: "insideBottom",
              offset: 72,
              fill: INK,
              fontSize: 40,
              fontWeight: 600,
              fontFamily: FONT,
            }}
          />
          <YAxis
            type="number"
            dataKey="y"
            domain={[0, 6000]}
            ticks={yTicks}
            width={288}
            tickSize={10}
            axisLine={{ stroke: "#888", strokeWidth: 1.5 }}
            tickLine={{ stroke: "#888", strokeWidth: 1.5 }}
            tick={<YTick />}
            label={{
              value: "Estimated TDEE (kcal/day)",
              angle: -90,
              position: "insideLeft",
              offset: 108,
              fill: INK,
              fontSize: 37,
              fontWeight: 600,
              fontFamily: FONT,
              style: { textAnchor: "middle", letterSpacing: 2 },
            }}
          />
          <Scatter data={points} shape={Dot} isAnimationActive={false} />
          <ReferenceLine
            segment={[
              { x: trendX[0], y: trendY[0] },
              { x: trendX[1], y: trendY[1] },
            ]}
            stroke={TREND}
            strokeWidth={2}
          />
        </ScatterChart>
      </div>
    </div>
  )
}
